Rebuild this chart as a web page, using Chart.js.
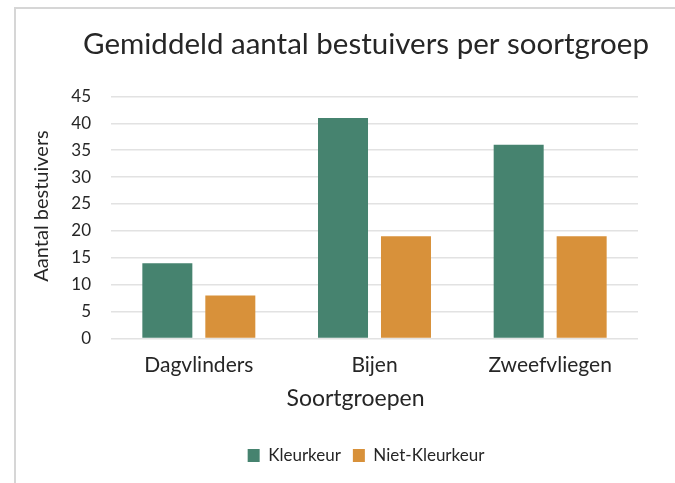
<!DOCTYPE html>
<html>
<head>
<meta charset="utf-8">
<script src="https://cdn.jsdelivr.net/npm/chart.js@4/dist/chart.umd.min.js"></script>
<style>
  html, body { margin: 0; padding: 0; background: #fff; overflow: hidden; width: 675px; height: 483px; }
  #frame {
    position: absolute; left: 14px; top: 7px;
    width: 702px; height: 480px;
    border-left: 2px solid #d6d6d6; border-top: 2px solid #d6d6d6;
  }
  #wrap { position: absolute; left: 0; top: 0; width: 700px; height: 474px; }
</style>
</head>
<body>
<div id="frame"><div id="wrap"><canvas id="pollinators"></canvas></div></div>
<script>
// ============================================================= bar chart

// categories + series
let groups = ["Dagvlinders", "Bijen", "Zweefvliegen"];
let kleurkeur = [14, 41, 36];
let nietKleurkeur = [8, 19, 19];
let yTicks = [0, 5, 10, 15, 20, 25, 30, 35, 40, 45];

let xTitle = "Soortgroepen";
let yTitle = "Aantal bestuivers";

let font = "Lato, 'Open Sans', sans-serif";
let ink = "#262626";

let pollinators = document.getElementById("pollinators");

// axis titles drawn by hand - Excel puts them a bit off-centre
let axisTitles = {
  id: "axisTitles",
  afterDraw: function (chart) {
    let ctx = chart.ctx;
    let area = chart.chartArea;
    ctx.save();
    ctx.fillStyle = ink;
    ctx.textAlign = "center";
    ctx.textBaseline = "middle";
    ctx.font = "23px " + font;
    ctx.fillText(xTitle, (area.left + area.right) / 2 - 19, area.bottom + 60);
    ctx.translate(area.left - 69, (area.top + area.bottom) / 2 - 11.5);
    ctx.rotate(-Math.PI / 2);
    ctx.font = "20px " + font;
    ctx.fillText(yTitle, 0, 0);
    ctx.restore();
  }
};

let pollinatorsX = {
  labels: groups,
  datasets: [{
    label: "Kleurkeur",
    data: kleurkeur,
    backgroundColor: "#46836f",
    borderWidth: 0
  }, {
    label: "Niet-Kleurkeur",
    data: nietKleurkeur,
    backgroundColor: "#d8913a",
    borderWidth: 0
  }]
};

let pollinatorsY = {
  responsive: true,
  maintainAspectRatio: false,
  animation: false,
  categoryPercentage: 0.717,
  barPercentage: 0.794,
  layout: {
    padding: { left: 0, right: 0, top: 0, bottom: 9 }
  },
  plugins: {
    tooltip: { enabled: false },
    title: {
      display: true,
      text: "Gemiddeld aantal bestuivers per soortgroep",
      color: ink,
      font: { family: font, size: 29.5, weight: "normal" },
      padding: { top: 18, bottom: 34 }
    },
    legend: {
      position: "bottom",
      labels: {
        color: ink,
        font: { family: font, size: 17 },
        boxWidth: 12,
        boxHeight: 13,
        padding: 12
      }
    }
  },
  scales: {
    x: {
      afterFit: function (scale) { scale.height = 96.5; },
      grid: { display: false, drawTicks: false },
      border: { display: false },
      ticks: { color: ink, font: { family: font, size: 21 }, padding: 14 }
    },
    y: {
      min: 0,
      max: 45,
      afterBuildTicks: function (scale) {
        scale.ticks = yTicks.map(function (v) { return { value: v }; });
      },
      afterFit: function (scale) { scale.width = 95; },
      grid: { color: "#e2e2e2", lineWidth: 1.5, drawTicks: false },
      border: { display: false },
      ticks: { color: ink, font: { family: font, size: 17 }, padding: 20 }
    },
    // empty right margin so title + legend stay centred on the whole chart
    yRight: {
      position: "right",
      min: 0,
      max: 45,
      afterFit: function (scale) { scale.width = 78; },
      grid: { display: false, drawTicks: false },
      border: { display: false },
      ticks: { display: false }
    }
  }
};

// EXECUTE GRAPH
let pollinatorsChart = new Chart(pollinators, {
  type: "bar",
  data: pollinatorsX,
  options: pollinatorsY,
  plugins: [axisTitles]
});
</script>
</body>
</html>
